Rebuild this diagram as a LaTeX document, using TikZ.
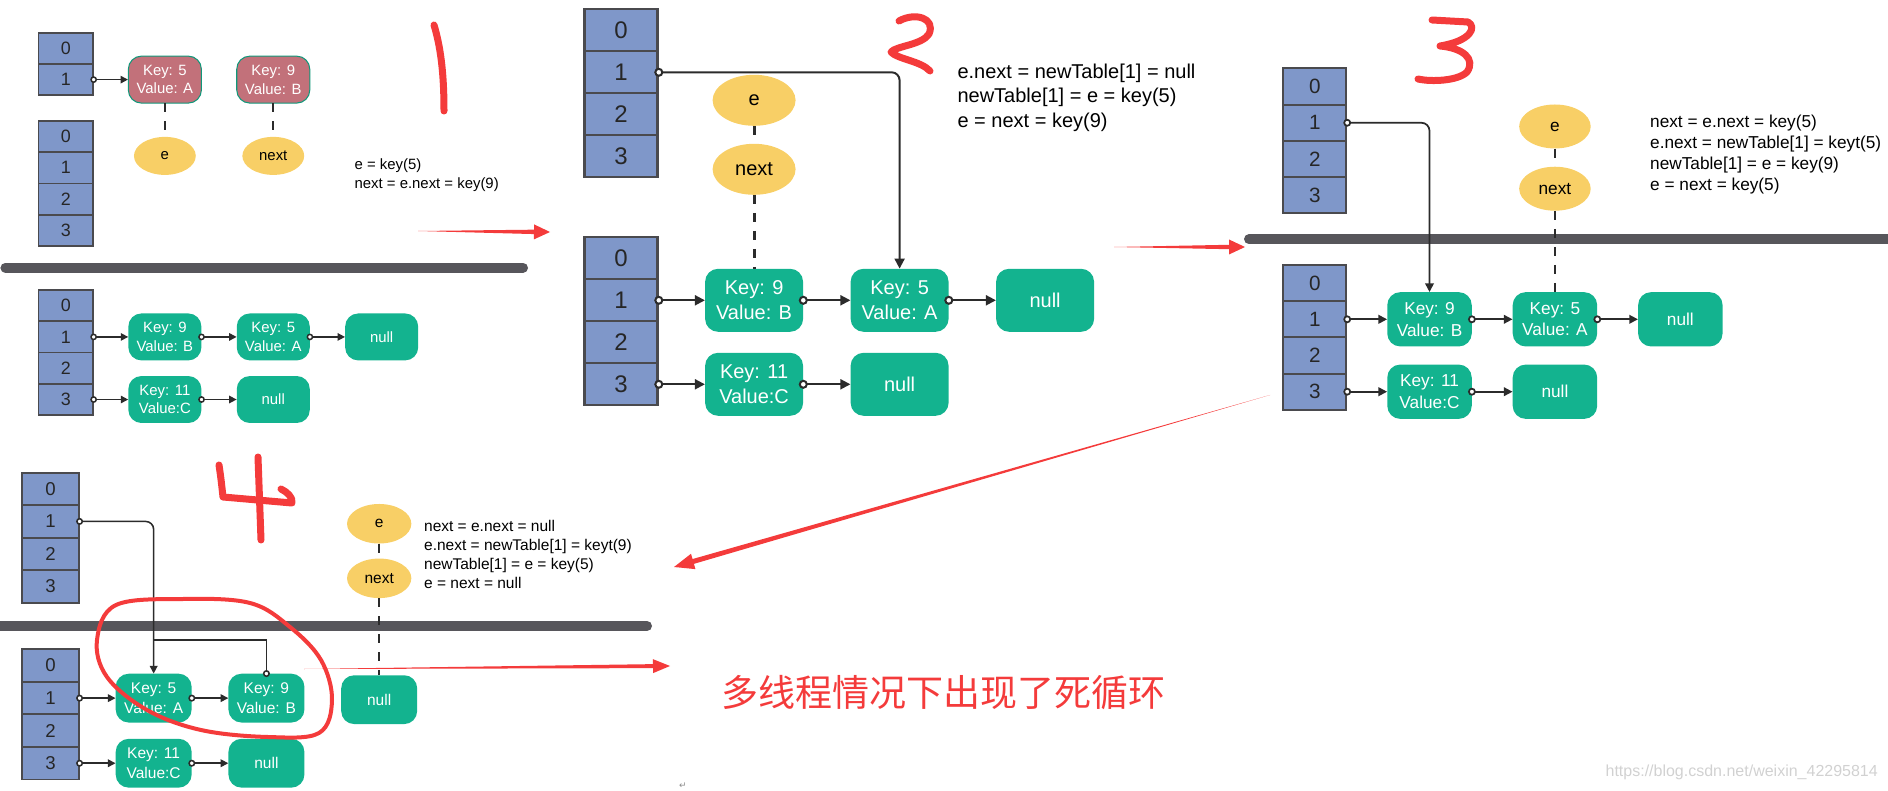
\documentclass[tikz,border=0pt]{standalone}
\usepackage{fontspec}
\setmainfont{Liberation Sans}
\newfontfamily\cjkfont{Noto Sans CJK SC}
\newfontfamily\symfont{DejaVu Sans}
\usetikzlibrary{shapes.geometric, calc, arrows.meta}

\definecolor{cellblue}{HTML}{7F97C9}
\definecolor{cellline}{HTML}{4A4A4E}
\definecolor{entrygreen}{HTML}{13B38F}
\definecolor{oldred}{HTML}{C2717A}
\definecolor{ptryellow}{HTML}{F8CF66}
\definecolor{linkgray}{HTML}{2B2B2B}
\definecolor{bargray}{HTML}{57565B}
\definecolor{penred}{HTML}{F43B3B}

% scale of the panel being drawn (line widths do not follow transform shape)
\newcommand{\pw}{1}
% hand drawn red arrow: tail, tip, head length, head half width, shaft half width
\newcommand{\penarrow}[5]{%
  \fill[penred] (#1) -- ($(#2)!#3!(#1)!#5!90:(#2)$) -- ($(#2)!#3!(#1)!#4!90:(#2)$) -- (#2)
    -- ($(#2)!#3!(#1)!#4!-90:(#2)$) -- ($(#2)!#3!(#1)!#5!-90:(#2)$) -- cycle;}

\tikzset{
  cell/.style={draw=cellline, line width=2.4*\pw, fill=cellblue, minimum width=73pt, minimum height=42pt,
    inner sep=0pt, text=black!85, font=\fontsize{24}{28}\selectfont},
  entry/.style={fill=entrygreen, rounded corners=13pt, minimum width=98pt, minimum height=63pt,
    inner sep=0pt, align=center, text=white, font=\fontsize{20}{25}\selectfont},
  oldentry/.style={entry, fill=oldred, draw=entrygreen!85!black, line width=1.4*\pw},
  ptr/.style={ellipse, fill=ptryellow, minimum width=83pt, minimum height=51pt, inner sep=0pt,
    font=\fontsize{20}{24}\selectfont},
  note/.style={anchor=west, inner sep=0pt, text height=15pt, text depth=4pt, font=\fontsize{20}{24}\selectfont},
  link/.style={draw=linkgray, line width=2*\pw, {Circle[length=9pt, fill=white, scale=\pw]}-{Triangle[length=10pt, width=10pt, scale=\pw]},
    shorten <=-4.5*\pw},
  backlink/.style={draw=linkgray, line width=2*\pw, {Circle[length=9pt, fill=white, scale=\pw]}-, shorten <=-4.5*\pw},
  watch/.style={draw=linkgray, line width=3.2*\pw, dash pattern=on 9pt off 9pt},
  bar/.style={draw=bargray, line width=10pt, line cap=round},
  pen/.style={draw=penred, line width=7pt, line cap=round, line join=round}
}

\begin{document}
\begin{tikzpicture}[x=1pt, y=-1pt]
\useasboundingbox (0,0) rectangle (1888,791);

% dividing bars
\draw[bar] (5.4,267.7) -- (523,267.7);
\draw[bar] (1249,239.3) -- (1900,239.3);
\draw[bar] (-10,626) -- (647,626);

% ---- 1
\begin{scope}[shift={(38.6,290)}, scale=0.745, transform shape, /utils/exec={\renewcommand\pw{0.745}}]
  \foreach \i in {0,1}
    \node[cell] (p1a\i) at (36.5,{-324.4+42*\i}) {\i};
  \foreach \i in {0,...,3} {
    \node[cell] (p1t\i) at (36.5,{-206+42*\i}) {\i};
    \node[cell] (p1b\i) at (36.5,{21+42*\i}) {\i};
  }
  \node[oldentry] (p1o5) at (169.5,-282.4) {Key: 5\\Value: A};
  \node[oldentry] (p1o9) at (315,-282.4) {Key: 9\\Value: B};
  \node[ptr] (p1e) at (169.5,-180) {e};
  \node[ptr] (p1next) at (315,-180) {next};
  \node[entry] (p1k9) at (169.5,63) {Key: 9\\Value: B};
  \node[entry] (p1k5) at (315,63) {Key: 5\\Value: A};
  \node[entry] (p1null1) at (460.5,63) {null};
  \node[entry] (p1k11) at (169.5,147) {Key: 11\\Value:C};
  \node[entry] (p1null3) at (315,147) {null};
  \foreach \i/\s in {0/{e = key(5)}, 1/{next = e.next = key(9)}}
    \node[note] (p1s\i) at (424,{-166.8+24.5*\i}) {\s};
  \draw[link] (p1a1.east) -- (p1o5.west);
  \draw[watch] (p1o5.south) -- (p1e.north);
  \draw[watch] (p1o9.south) -- (p1next.north);
  \draw[link] (p1b1.east) -- (p1k9.west);
  \draw[link] (p1k9.east) -- (p1k5.west);
  \draw[link] (p1k5.east) -- (p1null1.west);
  \draw[link] (p1b3.east) -- (p1k11.west);
  \draw[link] (p1k11.east) -- (p1null3.west);
\end{scope}

% ---- 2
\begin{scope}[shift={(584.6,237.3)}, transform shape, /utils/exec={\renewcommand\pw{1}}]
  \foreach \i in {0,...,3} {
    \node[cell] (p2t\i) at (36.5,{-207+42*\i}) {\i};
    \node[cell] (p2b\i) at (36.5,{21+42*\i}) {\i};
  }
  \node[ptr] (p2e) at (169.5,-137) {e};
  \node[ptr] (p2next) at (169.5,-68) {next};
  \node[entry] (p2k9) at (169.5,63) {Key: 9\\Value: B};
  \node[entry] (p2k5) at (315,63) {Key: 5\\Value: A};
  \node[entry] (p2null1) at (460.5,63) {null};
  \node[entry] (p2k11) at (169.5,147) {Key: 11\\Value:C};
  \node[entry] (p2null3) at (315,147) {null};
  \foreach \i/\s in {0/{e.next = newTable[1] = null}, 1/{newTable[1] = e = key(5)}, 2/{e = next = key(9)}}
    \node[note] (p2s\i) at (372.7,{-164.6+24.5*\i}) {\s};
  \draw[watch] (p2e.south) -- (p2next.north);
  \draw[watch] (p2next.south) -- (p2k9.north);
  \draw[link] (p2b1.east) -- (p2k9.west);
  \draw[link] (p2k9.east) -- (p2k5.west);
  \draw[link] (p2k5.east) -- (p2null1.west);
  \draw[link] (p2b3.east) -- (p2k11.west);
  \draw[link] (p2k11.east) -- (p2null3.west);
  \draw[link, rounded corners=8pt] (p2t1.east) -| (p2k5.north);
\end{scope}

% ---- 3
\begin{scope}[shift={(1283.4,265)}, scale=0.862, transform shape, /utils/exec={\renewcommand\pw{0.862}}]
  \foreach \i in {0,...,3} {
    \node[cell] (p3t\i) at (36.5,{-207+42*\i}) {\i};
    \node[cell] (p3b\i) at (36.5,{21+42*\i}) {\i};
  }
  \node[ptr] (p3e) at (315,-160.7) {e};
  \node[ptr] (p3next) at (315,-88.5) {next};
  \node[entry] (p3k9) at (169.5,63) {Key: 9\\Value: B};
  \node[entry] (p3k5) at (315,63) {Key: 5\\Value: A};
  \node[entry] (p3null1) at (460.5,63) {null};
  \node[entry] (p3k11) at (169.5,147) {Key: 11\\Value:C};
  \node[entry] (p3null3) at (315,147) {null};
  \foreach \i/\s in {0/{next = e.next = key(5)}, 1/{e.next = newTable[1] = keyt(5)}, 2/{newTable[1] = e = key(9)}, 3/{e = next = key(5)}}
    \node[note] (p3s\i) at (425.3,{-165+24.4*\i}) {\s};
  \draw[watch] (p3e.south) -- (p3next.north);
  \draw[watch] (p3next.south) -- (p3k5.north);
  \draw[link] (p3b1.east) -- (p3k9.west);
  \draw[link] (p3k9.east) -- (p3k5.west);
  \draw[link] (p3k5.east) -- (p3null1.west);
  \draw[link] (p3b3.east) -- (p3k11.west);
  \draw[link] (p3k11.east) -- (p3null3.west);
  \draw[link, rounded corners=8pt] (p3t1.east) -| (p3k9.north);
\end{scope}

% ---- 4
\begin{scope}[shift={(22.3,649.3)}, scale=0.775, transform shape, /utils/exec={\renewcommand\pw{0.775}}]
  \foreach \i in {0,...,3} {
    \node[cell] (p4t\i) at (36.5,{-207+42*\i}) {\i};
    \node[cell] (p4b\i) at (36.5,{21+42*\i}) {\i};
  }
  \node[ptr] (p4e) at (460.5,-162) {e};
  \node[ptr] (p4next) at (460.5,-91.6) {next};
  \node[entry] (p4k5) at (169.5,63) {Key: 5\\Value: A};
  \node[entry] (p4k9) at (315,63) {Key: 9\\Value: B};
  \node[entry] (p4null1) at (460.5,65) {null};
  \node[entry] (p4k11) at (169.5,147) {Key: 11\\Value:C};
  \node[entry] (p4null3) at (315,147) {null};
  \coordinate (p4j) at (169.5,-12);
  \foreach \i/\s in {0/{next = e.next = null}, 1/{e.next = newTable[1] = keyt(9)}, 2/{newTable[1] = e = key(5)}, 3/{e = next = null}}
    \node[note] (p4s\i) at (518.3,{-157+24.4*\i}) {\s};
  \draw[watch] (p4e.south) -- (p4next.north);
  \draw[watch] (p4next.south) -- (p4null1.north);
  \draw[link] (p4b1.east) -- (p4k5.west);
  \draw[link] (p4k5.east) -- (p4k9.west);
  \draw[link] (p4b3.east) -- (p4k11.west);
  \draw[link] (p4k11.east) -- (p4null3.west);
  \draw[link, rounded corners=8pt] (p4t1.east) -| (p4k5.north);
  \draw[backlink] (p4k9.north) |- (p4j);
\end{scope}

% hand written step numbers
\draw[pen] (434,25) .. controls (440,45) and (444,70) .. (444,111);
\draw[pen] (899,21) .. controls (915,12) and (936,18) .. (929,34) .. controls (922,45) and (896,46) .. (891,52)
  .. controls (897,59) and (921,61) .. (930,71);
\draw[pen] (1432,20) -- (1468,22) .. controls (1477,27) and (1471,41) .. (1440,46)
  .. controls (1463,48) and (1476,59) .. (1467,72) .. controls (1458,81) and (1431,82) .. (1418,79);
\draw[pen] (219,465) .. controls (221,478) and (222,488) .. (223,497) -- (292,503) .. controls (293,497) and (287,492) .. (281,489);
\draw[pen] (258,457) -- (261,540);
\draw[pen, line width=4pt] plot[smooth cycle, tension=0.6] coordinates {(183,599) (250,603) (290,627) (321,660) (332,700)
  (319,733) (268,737) (201,730) (147,710) (107,677) (97,640) (116,605)};

% red arrows between steps
\coordinate (r1a) at (418,231); \coordinate (r1b) at (550,232);
\penarrow{r1a}{r1b}{16pt}{7.5pt}{2.2pt}
\coordinate (r2a) at (1114,247); \coordinate (r2b) at (1245,247);
\penarrow{r2a}{r2b}{16pt}{7.5pt}{2.2pt}
\coordinate (r3a) at (1270,395); \coordinate (r3b) at (674,567);
\penarrow{r3a}{r3b}{20pt}{8pt}{2.5pt}
\coordinate (r4a) at (304,669); \coordinate (r4b) at (670,666);
\penarrow{r4a}{r4b}{17pt}{7pt}{2pt}

\node[anchor=west, inner sep=0pt, text=penred, font=\cjkfont\fontsize{37}{40}\selectfont] (warn) at (721,693) {多线程情况下出现了死循环};
\node[anchor=east, inner sep=0pt, text=black!18, font=\fontsize{16}{18}\selectfont] (mark) at (1878,772.5) {https://blog.csdn.net/weixin\_42295814};
\node[inner sep=0pt, text=black!45, font=\symfont\fontsize{9}{10}\selectfont] (ret) at (683,786) {↵};
\end{tikzpicture}
\end{document}
